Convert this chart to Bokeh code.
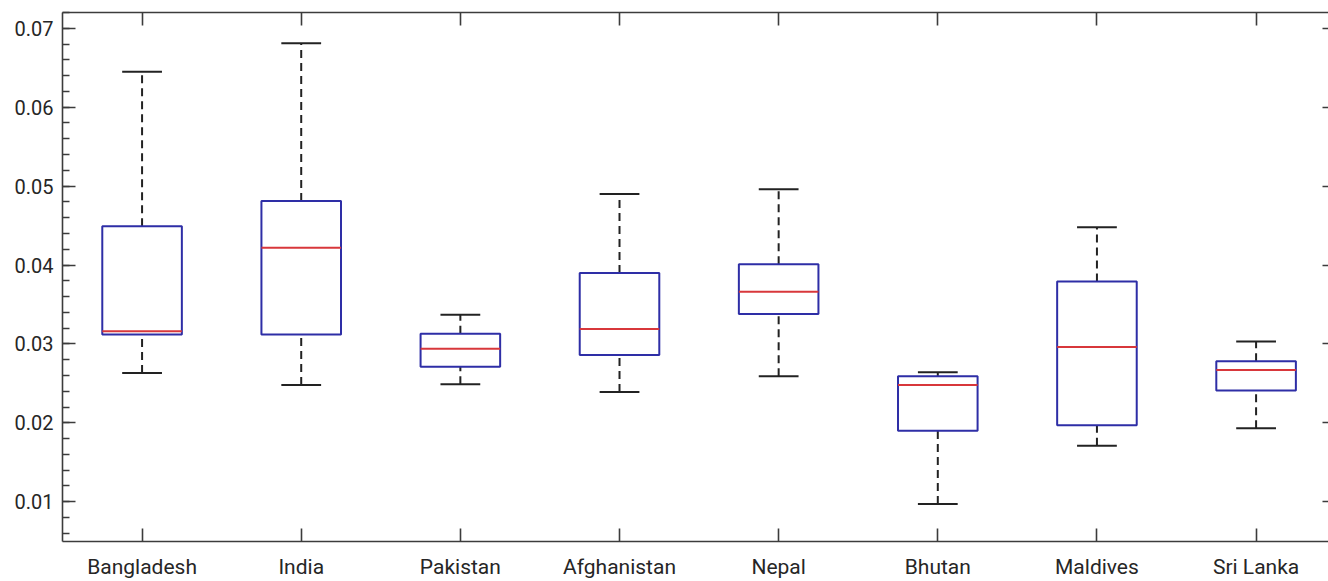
import numpy as np
from bokeh.plotting import figure
from bokeh.models import Range1d, FixedTicker, LinearAxis, PrintfTickFormatter, ColumnDataSource
from bokeh.embed import file_html
from bokeh.resources import INLINE

categories = ["Bangladesh", "India", "Pakistan", "Afghanistan", "Nepal", "Bhutan", "Maldives", "Sri Lanka"]
upper_whisker = [0.0645, 0.0681, 0.0337, 0.0490, 0.0496, 0.0264, 0.0448, 0.0303]
q3 = [0.0449, 0.0481, 0.0313, 0.0390, 0.0401, 0.0259, 0.0379, 0.0278]
median = [0.0316, 0.0422, 0.0294, 0.0319, 0.0366, 0.0248, 0.0296, 0.0267]
q1 = [0.0312, 0.0312, 0.0271, 0.0286, 0.0338, 0.0190, 0.0197, 0.0241]
lower_whisker = [0.0263, 0.0248, 0.0249, 0.0239, 0.0259, 0.0097, 0.0171, 0.0193]
y_ticks = [0.01, 0.02, 0.03, 0.04, 0.05, 0.06, 0.07]
y_minor = [round(0.006 + 0.002 * i, 3) for i in range(34)]

pos = list(range(1, len(categories) + 1))
src = ColumnDataSource(dict(
    x=pos, q1=q1, q3=q3, med=median, lo=lower_whisker, hi=upper_whisker,
    xl=[p_ - 0.25 for p_ in pos], xr=[p_ + 0.25 for p_ in pos],
    cl=[p_ - 0.125 for p_ in pos], cr=[p_ + 0.125 for p_ in pos],
))

FONT = "Roboto"
TXT = "#262626"
AX = "#3c3c3c"

p = figure(width=1328, height=581, output_backend="svg", toolbar_location=None,
           x_range=Range1d(0.5, 8.455), y_range=Range1d(0.00496, 0.0720),
           x_axis_location=None, y_axis_location=None,
           min_border_left=62, min_border_top=12, min_border_right=0, min_border_bottom=38)
p.grid.visible = False
p.outline_line_color = None
p.background_fill_color = "white"
p.border_fill_color = "white"

yt = FixedTicker(ticks=y_ticks, minor_ticks=y_minor)
xt = FixedTicker(ticks=pos, minor_ticks=[])

def style_axis(ax):
    ax.axis_line_color = AX
    ax.axis_line_width = 1.6
    ax.major_tick_line_color = AX
    ax.major_tick_line_width = 1.6
    ax.minor_tick_line_color = AX
    ax.minor_tick_line_width = 1.6
    ax.major_tick_in = 13
    ax.major_tick_out = 0
    ax.minor_tick_in = 7
    ax.minor_tick_out = 0
    ax.major_label_text_font = FONT
    ax.major_label_text_color = TXT

left = LinearAxis(ticker=yt, formatter=PrintfTickFormatter(format="%.2f"))
style_axis(left)
left.major_label_text_font_size = "20px"
left.major_label_standoff = 9
p.add_layout(left, "left")

right = LinearAxis(ticker=yt, major_label_overrides={t: "" for t in y_ticks})
style_axis(right)
right.axis_line_color = None
right.major_tick_in = 6
right.minor_tick_in = 0
right.major_label_standoff = 0
p.add_layout(right, "right")

bottom = LinearAxis(ticker=xt, major_label_overrides={i + 1: c for i, c in enumerate(categories)})
style_axis(bottom)
bottom.minor_tick_in = 0
bottom.major_label_text_font_size = "21px"
bottom.major_label_standoff = 13
p.add_layout(bottom, "below")

top = LinearAxis(ticker=xt, major_label_overrides={i + 1: "" for i in range(len(categories))})
style_axis(top)
top.minor_tick_in = 0
top.major_label_standoff = 0
p.add_layout(top, "above")

WH = "#222222"
p.segment(x0="x", y0="q3", x1="x", y1="hi", source=src, line_color=WH, line_width=2, line_dash="8 5")
p.segment(x0="x", y0="lo", x1="x", y1="q1", source=src, line_color=WH, line_width=2, line_dash="8 5")
p.segment(x0="cl", y0="hi", x1="cr", y1="hi", source=src, line_color=WH, line_width=2)
p.segment(x0="cl", y0="lo", x1="cr", y1="lo", source=src, line_color=WH, line_width=2)
p.vbar(x="x", width=0.5, bottom="q1", top="q3", source=src, fill_color="white",
       line_color="#2e2ea6", line_width=2)
p.segment(x0="xl", y0="med", x1="xr", y1="med", source=src, line_color="#d8373b", line_width=2)

open("out.html", "w").write(file_html(p, INLINE))
